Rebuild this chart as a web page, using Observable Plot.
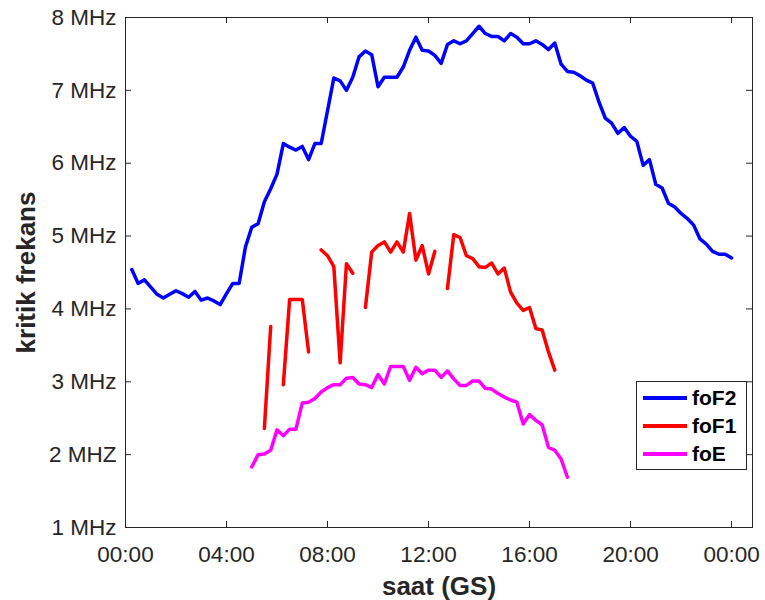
<!DOCTYPE html>
<html>
<head>
<meta charset="utf-8">
<script src="https://cdn.jsdelivr.net/npm/d3@7"></script>
<script src="https://cdn.jsdelivr.net/npm/@observablehq/plot@0.6"></script>
<style>
  html, body { margin: 0; padding: 0; background: #fff; }
  #wrap { position: relative; width: 765px; height: 600px; font-family: "Liberation Sans", Arial, sans-serif; }
  #legend { position: absolute; left: 636px; top: 381px; width: 109px; height: 87px; border: 1.5px solid #262626; background: #fff; }
  #legend .row { position: absolute; left: 0; height: 20px; }
  #legend .sw { position: absolute; left: 6px; width: 44px; height: 3.5px; }
  #legend .lb { position: absolute; left: 55px; font-weight: bold; font-size: 21px; color: #000; line-height: 20px; }
</style>
</head>
<body>
<div id="wrap"><div id="chart"></div><div id="legend"></div></div>
<script>
// quarter-hour sample times (hours of day, UT)
const times = [0.25,0.5,0.75,1,1.25,1.5,1.75,2,2.25,2.5,2.75,3,3.25,3.5,3.75,4,
  4.25,4.5,4.75,5,5.25,5.5,5.75,6,6.25,6.5,6.75,7,7.25,7.5,7.75,8,
  8.25,8.5,8.75,9,9.25,9.5,9.75,10,10.25,10.5,10.75,11,11.25,11.5,11.75,12,
  12.25,12.5,12.75,13,13.25,13.5,13.75,14,14.25,14.5,14.75,15,15.25,15.5,15.75,16,
  16.25,16.5,16.75,17,17.25,17.5,17.75,18,18.25,18.5,18.75,19,19.25,19.5,19.75,20,
  20.25,20.5,20.75,21,21.25,21.5,21.75,22,22.25,22.5,22.75,23,23.25,23.5,23.75,24];

const foF2 = [4.54,4.35,4.40,4.30,4.20,4.15,4.20,4.25,4.21,4.16,
  4.24,4.12,4.15,4.11,4.06,4.21,4.35,4.35,4.85,5.12,
  5.17,5.47,5.65,5.85,6.27,6.22,6.18,6.23,6.05,6.27,
  6.27,6.72,7.17,7.13,7.00,7.18,7.46,7.54,7.49,7.05,
  7.18,7.18,7.18,7.32,7.55,7.73,7.55,7.54,7.48,7.37,
  7.63,7.68,7.64,7.68,7.78,7.88,7.78,7.74,7.74,7.68,
  7.78,7.73,7.64,7.64,7.68,7.63,7.56,7.65,7.36,7.26,
  7.25,7.20,7.14,7.10,6.84,6.62,6.55,6.41,6.49,6.37,
  6.30,5.97,6.05,5.71,5.66,5.45,5.40,5.31,5.24,5.15,
  4.96,4.89,4.79,4.75,4.75,4.70];

const foF1 = [null,null,null,null,null,null,null,null,null,null,
  null,null,null,null,null,null,null,null,null,null,
  null,2.36,3.76,null,2.96,4.13,4.13,4.13,3.41,null,
  4.81,4.73,4.58,3.26,4.62,4.49,null,4.02,4.78,4.87,
  4.92,4.78,4.92,4.78,5.31,4.67,4.87,4.48,4.79,null,
  4.28,5.02,4.98,4.73,4.69,4.58,4.57,4.63,4.48,4.56,
  4.23,4.08,3.98,4.02,3.73,3.71,3.41,3.16,null,null,
  null,null,null,null,null,null,null,null,null,null,
  null,null,null,null,null,null,null,null,null,null,
  null,null,null,null,null,null];

const foE = [null,null,null,null,null,null,null,null,null,null,
  null,null,null,null,null,null,null,null,null,1.83,
  2.00,2.01,2.06,2.34,2.26,2.35,2.35,2.71,2.72,2.77,
  2.86,2.92,2.96,2.96,3.05,3.06,2.97,2.96,2.92,3.10,
  2.97,3.21,3.21,3.21,3.02,3.20,3.11,3.16,3.16,3.06,
  3.15,3.04,2.95,2.95,3.01,3.01,2.91,2.90,2.84,2.79,
  2.75,2.72,2.42,2.55,2.47,2.41,2.10,2.06,1.94,1.69,
  null,null,null,null,null,null,null,null,null,null,
  null,null,null,null,null,null,null,null,null,null,
  null,null,null,null,null,null];

const seriesNames = ["foF2", "foF1", "foE"];
const seriesColors = ["#0000ff", "#ff0000", "#ff00ff"];

const xTicks = [0, 4, 8, 12, 16, 20, 24];
const xTickLabels = ["00:00", "04:00", "08:00", "12:00", "16:00", "20:00", "00:00"];
const yTicks = [1, 2, 3, 4, 5, 6, 7, 8];
const yTickLabels = ["1 MHz", "2 MHZ", "3 MHz", "4 MHz", "5 MHz", "6 MHz", "7 MHz", "8 MHz"];

const xLabel = "saat (GS)";
const yLabel = "kritik frekans";

const rows = [];
const seriesValues = [foF2, foF1, foE];
seriesNames.forEach((name, s) => {
  times.forEach((t, i) => rows.push({ series: name, t, v: seriesValues[s][i] }));
});

const W = 765, H = 600;
const mL = 125, mT = 17, mR = 13, mB = 73;
const fw = W - mL - mR, fh = H - mT - mB;
const tk = 6;
const axisColor = "#262626";

const chart = Plot.plot({
  width: W, height: H,
  marginLeft: mL, marginTop: mT, marginRight: mR, marginBottom: mB,
  style: { fontFamily: "'Liberation Sans', Arial, sans-serif", color: axisColor, background: "#fff" },
  x: { domain: [0, 24.83] },
  y: { domain: [1, 8] },
  color: { domain: seriesNames, range: seriesColors },
  marks: [
    Plot.axisX(xTicks, { tickSize: 0, tickPadding: 19, fontSize: 22.5, tickFormat: (d, i) => xTickLabels[i], label: null }),
    Plot.axisY(yTicks, { tickSize: 0, tickPadding: 9, fontSize: 22.5, tickFormat: (d, i) => yTickLabels[i], label: null }),
    Plot.ruleX(xTicks, { stroke: axisColor, strokeWidth: 1, insetTop: fh - tk }),
    Plot.ruleX(xTicks, { stroke: axisColor, strokeWidth: 1, insetBottom: fh - tk }),
    Plot.ruleY(yTicks, { stroke: axisColor, strokeWidth: 1, insetRight: fw - tk }),
    Plot.ruleY(yTicks, { stroke: axisColor, strokeWidth: 1, insetLeft: fw - tk }),
    Plot.frame({ stroke: axisColor, strokeWidth: 1 }),
    Plot.line(rows, { x: "t", y: "v", z: "series", stroke: "series", strokeWidth: 3.5, strokeLinejoin: "round" }),
    Plot.text([xLabel], { text: d => d, frameAnchor: "bottom", dy: 67, lineAnchor: "bottom", fontSize: 26, fontWeight: "bold", fill: axisColor }),
    Plot.text([yLabel], { text: d => d, frameAnchor: "left", dx: -91, rotate: -90, lineAnchor: "bottom", textAnchor: "middle", fontSize: 26, fontWeight: "bold", fill: axisColor })
  ]
});
document.getElementById("chart").appendChild(chart);

const legend = document.getElementById("legend");
seriesNames.forEach((name, i) => {
  const row = document.createElement("div");
  row.className = "row";
  row.style.top = (6 + i * 28) + "px";
  row.innerHTML = `<div class="sw" style="top:8px;background:${seriesColors[i]}"></div><div class="lb" style="top:0">${name}</div>`;
  legend.appendChild(row);
});
</script>
</body>
</html>
